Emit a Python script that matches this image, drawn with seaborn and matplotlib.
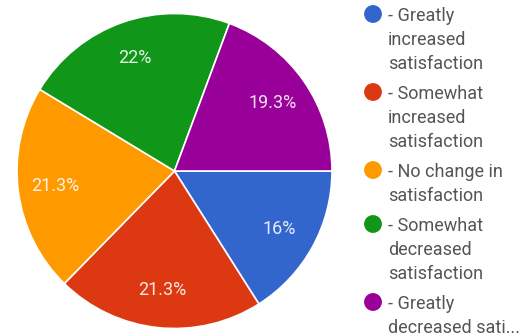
import matplotlib
matplotlib.use("Agg")
import matplotlib.pyplot as plt
import seaborn as sns

# Survey responses (counts out of 150), listed clockwise from 3 o'clock
categories = [
    "Greatly increased satisfaction",
    "Somewhat increased satisfaction",
    "No change in satisfaction",
    "Somewhat decreased satisfaction",
    "Greatly decreased satisfaction",
]
responses = [24, 32, 32, 33, 29]
slice_colors = ["#3366CC", "#DC3912", "#FF9900", "#109618", "#990099"]
legend_labels = [
    "- Greatly\nincreased\nsatisfaction",
    "- Somewhat\nincreased\nsatisfaction",
    "- No change in\nsatisfaction",
    "- Somewhat\ndecreased\nsatisfaction",
    "- Greatly\ndecreased sati...",
]

sns.set_theme(style="white")
plt.rcParams["font.family"] = ["Roboto", "DejaVu Sans"]
palette = sns.color_palette(slice_colors)

W, H = 531, 336
fig = plt.figure(figsize=(W / 100, H / 100), dpi=100)
fig.patch.set_facecolor("white")

# Pie: centre (174.5, 171) px, radius 157.5 px
cx, cy, r = 174.5, 171.0, 157.5
ax = fig.add_axes([(cx - r) / W, 1 - (cy + r) / H, 2 * r / W, 2 * r / H])


def pct_label(p):
    s = f"{p:.1f}".rstrip("0").rstrip(".")
    return s + "%"


wedges, texts, autotexts = ax.pie(
    responses,
    colors=palette,
    startangle=0,
    counterclock=False,
    autopct=pct_label,
    pctdistance=0.76,
    wedgeprops=dict(edgecolor="white", linewidth=1.2),
    textprops=dict(color="white", fontsize=13),
)
for t in autotexts:
    t.set_alpha(0.88)
ax.set_xlim(-1, 1)
ax.set_ylim(-1, 1)
ax.set_aspect("equal")
ax.axis("off")

# Legend drawn in pixel coordinates on an overlay axes
lax = fig.add_axes([0, 0, 1, 1])
lax.set_xlim(0, W)
lax.set_ylim(H, 0)
lax.axis("off")
lax.patch.set_alpha(0)

line_h = 24
item_gap = 6
y = 14
for label, col in zip(legend_labels, palette):
    lax.scatter([373], [y], s=165, color=col, edgecolors="none", zorder=3)
    lines = label.split("\n")
    for i, line in enumerate(lines):
        lax.text(388, y + i * line_h, line, fontsize=13, color="#555555",
                 ha="left", va="center_baseline")
    y += len(lines) * line_h + item_gap

fig.savefig("out.png", dpi=100, facecolor="white")
